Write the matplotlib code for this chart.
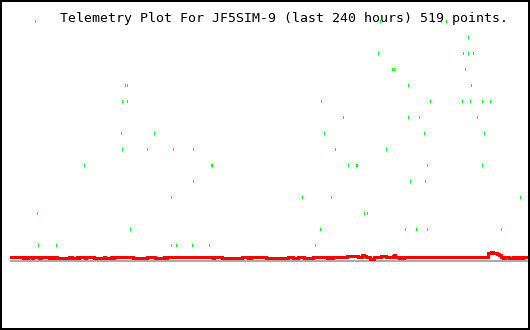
import matplotlib
matplotlib.use("Agg")
import matplotlib.pyplot as plt
from matplotlib.patches import Rectangle

title = "Telemetry Plot For JF5SIM-9 (last 240 hours) 519 points."

# green scattered points: hours, value
green_hours = [11.8, 151.3, 171.2, 195.8, 199.9, 202.2,
               212.4,
               170.3, 210.1, 212.0, 212.4, 214.3,
               177.2, 177.7, 211.0,
               53.5, 54.0, 184.6, 213.8,
               52.1, 54.0, 143.9, 194.4, 209.2, 212.9, 218.9, 222.6,
               154.5, 184.6, 189.3, 216.6,
               51.2, 66.5, 145.7, 191.6, 219.4,
               51.7, 63.7, 75.3, 84.6, 150.8, 174.4,
               34.1, 92.9, 93.4, 156.4, 160.5, 161.0, 193.4, 218.9,
               85.0, 185.1, 192.5,
               74.8, 135.1, 148.5, 236.1,
               12.7, 163.8, 165.2,
               55.8, 143.4, 182.8, 187.9, 193.0, 227.3,
               13.2, 21.1, 74.4, 77.1, 84.1, 92.0, 141.5]
green_values = [15, 15, 15, 15, 15, 15,
                14,
                13, 13, 13, 13, 13,
                12, 12, 12,
                11, 11, 11, 11,
                10, 10, 10, 10, 10, 10, 10, 10,
                9, 9, 9, 9,
                8, 8, 8, 8, 8,
                7, 7, 7, 7, 7, 7,
                6, 6, 6, 6, 6, 6, 6, 6,
                5, 5, 5,
                4, 4, 4, 4,
                3, 3, 3,
                2, 2, 2, 2, 2, 2,
                1, 1, 1, 1, 1, 1, 1]

# red series (step breakpoints): hours, value
red_hours = [0, 5.88, 6.95, 8.02, 8.48, 10.33, 10.80, 13.44, 14.36, 18.07,
             18.53, 19.60, 20.85, 21.64, 27.34, 28.59, 30.90, 31.37, 31.97, 34.75,
             35.21, 38.92, 43.55, 44.02, 46.80, 47.86, 48.32, 56.85, 63.33, 67.18,
             71.35, 72.14, 72.60, 94.19, 94.66, 98.22, 107.49, 110.41, 111.52, 118.61,
             128.80, 130.98, 133.30, 136.35, 140.25, 146.87, 147.47, 148.73, 149.51, 156.14,
             161.10, 162.95, 163.88, 164.94, 166.80, 168.79, 171.89, 174.21, 177.31, 178.05,
             178.52, 180.23, 180.69, 181.62, 182.78, 221.61, 222.72, 223.78, 225.50, 226.56,
             227.49, 228.42, 229.34, 231.19, 233.19, 234.30, 235.83, 236.90, 237.69, 240.0]
red_values = [0.25, 0.1875, 0.25, 0.1875, 0.25, 0.1875, 0.25, 0.1875, 0.25, 0.1875,
              0.25, 0.1875, 0.25, 0.1875, 0.25, 0.1875, 0.25, 0.1875, 0.25, 0.1875,
              0.25, 0.1875, 0.25, 0.1875, 0.25, 0.1875, 0.25, 0.1875, 0.25, 0.1875,
              0.25, 0.1875, 0.25, 0.1875, 0.25, 0.1875, 0.25, 0.1875, 0.25, 0.1875,
              0.25, 0.1875, 0.25, 0.1875, 0.25, 0.1875, 0.25, 0.1875, 0.25, 0.3125,
              0.25, 0.375, 0.3125, 0.25, 0.125, 0.25, 0.3125, 0.25, 0.3125, 0.375,
              0.25, 0.1875, 0.25, 0.1875, 0.25, 0.5, 0.5625, 0.5, 0.4375, 0.375,
              0.25, 0.1875, 0.25, 0.1875, 0.25, 0.1875, 0.25, 0.1875, 0.25, 0.25]

baseline_value = 0.0

W, H = 530, 330
PX_V = 16.0  # pixels per value unit
fig = plt.figure(figsize=(W / 100, H / 100), dpi=100)
fig.patch.set_facecolor("white")
ax = fig.add_axes([0, 0, 1, 1])
ax.set_axis_off()
ax.set_xlim(-4.633, 240.927)
ax.set_ylim(-4.3125, 16.3125)

# gray baseline
ax.plot([0, 240.927], [baseline_value, baseline_value], color="#aaaaaa",
        lw=1.44, solid_capstyle="butt", antialiased=False, zorder=1)

# red line
ax.plot(red_hours, red_values, color="#ff0000", lw=1.8, drawstyle="steps-post",
        solid_capstyle="butt", antialiased=False, zorder=2)

# green points (1x2 pixel dots)
half = 1.0 / PX_V
ax.vlines(green_hours, [v - half for v in green_values], [v + half for v in green_values],
          color="#00ff00", lw=0.72, antialiased=False, zorder=3)

fig.text(60 / W, 1 - 22 / H, title, family="DejaVu Sans Mono", fontsize=9.55,
         color="black", ha="left", va="baseline", zorder=4)

fig.patches.append(Rectangle((1 / W, 1 / H), 528 / W, 328 / H, transform=fig.transFigure,
                             fill=False, edgecolor="black", linewidth=1.44, antialiased=False))

fig.savefig("out.png", dpi=100, facecolor="white")
